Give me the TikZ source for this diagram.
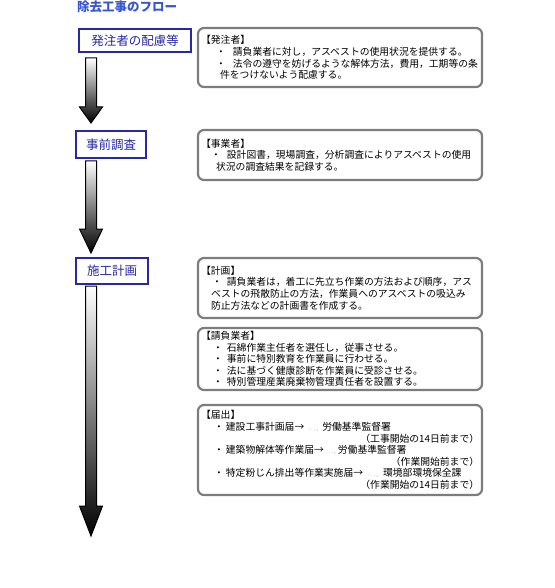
\documentclass[tikz,border=0pt]{standalone}
\usepackage{fontspec}
\newfontfamily\jp{Noto Sans CJK JP}
\definecolor{flowblue}{RGB}{40,40,165}
\definecolor{titleblue}{RGB}{55,85,205}
\definecolor{boxgray}{RGB}{125,125,125}
\newcommand\fatarrow[3]{%
  \shadedraw[top color=white, bottom color=black, draw=black, line width=1pt]
   (85.5,#1) -- (96.5,#1) -- (96.5,#2-#3) -- (102.5,#2-#3) -- (91,#2)
   -- (79.5,#2-#3) -- (85.5,#2-#3) -- cycle;}
\newcommand\bul[2]{\hspace*{#1pt}・\hspace*{#2pt}}
\newcommand\redact[1]{\makebox[#1][c]{\color{black!35}\fontsize{6}{6}\selectfont :\,.\,.\,,}}
\begin{document}
\begin{tikzpicture}[x=1pt,y=-1pt,
  stagebox/.style={draw=flowblue, line width=1.2pt, fill=white, text=flowblue,
    font=\jp\fontsize{12.5}{14}\selectfont, inner sep=0pt},
  infobox/.style={draw=boxgray, line width=2.2pt, rounded corners=6pt, fill=white, inner sep=0pt},
  infotext/.style={font=\jp\fontsize{9.8}{11.6}\selectfont, align=left, anchor=west,
    inner sep=0pt, text=black}
]
\useasboundingbox (0,0) rectangle (554,588);

\node[font=\jp\bfseries\fontsize{12.5}{14}\selectfont, text=titleblue, anchor=west, inner sep=0pt]
  (title) at (77,7) {除去工事のフロー};

% stages
\node[stagebox, line width=1.8pt, minimum width=112pt, minimum height=23pt] (s1) at (135,40.5) {発注者の配慮等};
\node[stagebox, minimum width=70pt, minimum height=27pt] (s2) at (111,144.5) {事前調査};
\node[stagebox, minimum width=72pt, minimum height=26pt] (s3) at (112,271) {施工計画};

% arrows
\fatarrow{58}{123}{16}
\fatarrow{161}{253}{24}
\fatarrow{286}{536}{30}

% info boxes
\node[infobox, minimum width=284pt, minimum height=59pt] (bA) at (340,57.5) {};
\node[infotext] (tA) at ([xshift=4pt]bA.west) {%
【発注者】\\
\bul{15}{7}請負業者に対し，アスベストの使用状況を提供する。\\
\bul{15}{7}法令の遵守を妨げるような解体方法，費用，工期等の条\\
\hspace*{19pt}件をつけないよう配慮する。};

\node[infobox, minimum width=284pt, minimum height=50pt] (bB) at (340,155) {};
\node[infotext] (tB) at ([xshift=4pt]bB.west) {%
【事業者】\\
\bul{10}{6}設計図書，現場調査，分析調査によりアスベストの使用\\
\hspace*{15pt}状況の調査結果を記録する。};

\node[infobox, minimum width=284pt, minimum height=60pt] (bC) at (340,288) {};
\node[infotext] (tC) at ([xshift=4pt]bC.west) {%
【計画】\\
\bul{11}{5}請負業者は，着工に先立ち作業の方法および順序，アス\\
\hspace*{10pt}ベストの飛散防止の方法，作業員へのアスベストの吸込み\\
\hspace*{10pt}防止方法などの計画書を作成する。};

\node[infobox, minimum width=284pt, minimum height=62pt] (bD) at (340,359) {};
\node[infotext] (tD) at ([xshift=4pt]bD.west) {%
【請負業者】\\
\bul{12}{4}石綿作業主任者を選任し，従事させる。\\
\bul{12}{4}事前に特別教育を作業員に行わせる。\\
\bul{12}{4}法に基づく健康診断を作業員に受診させる。\\
\bul{12}{4}特別管理産業廃棄物管理責任者を設置する。};

\node[infobox, minimum width=284pt, minimum height=90pt] (bE) at (340,450) {};
\node[infotext] (tE) at ([xshift=4pt]bE.west) {%
【届出】\\
\bul{13}{2}建設工事計画届→\redact{18pt}労働基準監督署\\
\makebox[278pt][r]{（工事開始の14日前まで）}\\
\bul{13}{2}建築物解体等作業届→\redact{14pt}労働基準監督署\\
\makebox[278pt][r]{（作業開始前まで）}\\
\bul{13}{2}特定粉じん排出等作業実施届→\redact{20pt}環境部環境保全課\\
\makebox[278pt][r]{（作業開始の14日前まで）}};
\end{tikzpicture}
\end{document}
